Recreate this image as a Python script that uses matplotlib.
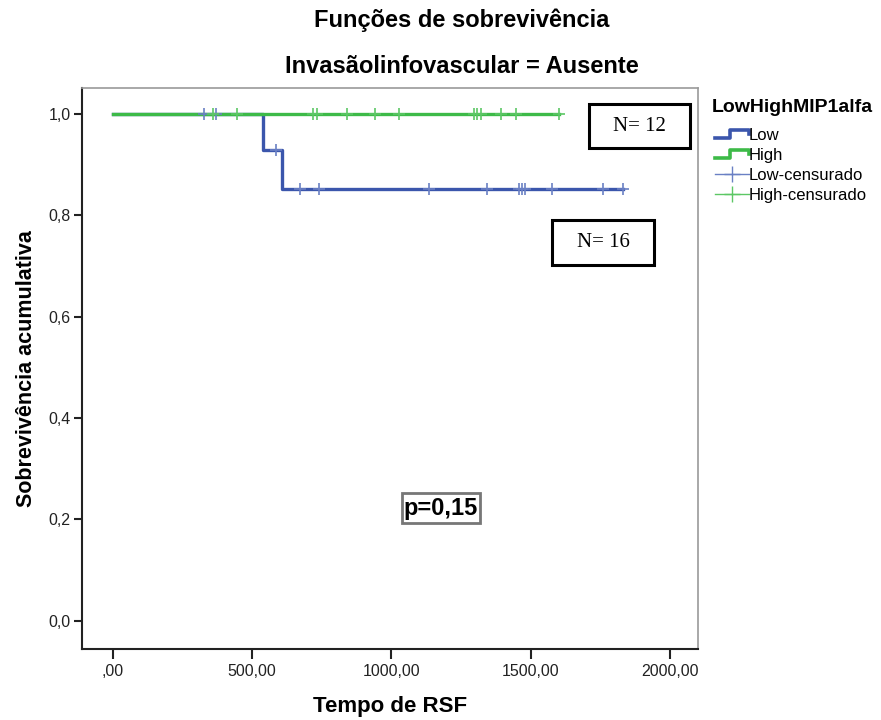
import numpy as np
import matplotlib
matplotlib.use("Agg")
import matplotlib.pyplot as plt
from matplotlib.lines import Line2D
from matplotlib.patches import Rectangle
from matplotlib.legend_handler import HandlerBase

# ---------------- data ----------------
low_step_times = [0, 539, 608, 1830]
low_step_surv = [1.0, 0.929, 0.851, 0.851]
high_step_times = [0, 1601]
high_step_surv = [1.0, 1.0]

low_cens_times = [328, 371, 585, 672, 741, 1136, 1342, 1459, 1467, 1480, 1575, 1758, 1830]
high_cens_times = [359, 445, 720, 734, 840, 941, 1027, 1297, 1308, 1320, 1393, 1448, 1601]

x_ticks = [0, 500, 1000, 1500, 2000]
x_tick_labels = [",00", "500,00", "1000,00", "1500,00", "2000,00"]
y_ticks = [0.0, 0.2, 0.4, 0.6, 0.8, 1.0]
y_tick_labels = ["0,0", "0,2", "0,4", "0,6", "0,8", "1,0"]

title1 = "Funções de sobrevivência"
title2 = "Invasãolinfovascular = Ausente"
legend_title = "LowHighMIP1alfa"
series_names = ["Low", "High", "Low-censurado", "High-censurado"]
n_low = "N= 16"
n_high = "N= 12"
p_text = "p=0,15"

BLUE = "#3B56AC"
GREEN = "#3DBA48"
BLUE_C = "#6A80C4"
GREEN_C = "#5CC765"

plt.rcParams['font.family'] = ['Liberation Sans', 'DejaVu Sans']

fig = plt.figure(figsize=(8.81, 7.2), dpi=100)
ax = fig.add_axes([0.0927, 0.0986, 0.6996, 0.7792])


def surv_at(t, times, surv):
    idx = np.searchsorted(times, t, side='right') - 1
    return surv[max(idx, 0)]


ax.step(low_step_times, low_step_surv, where='post', color=BLUE, lw=2.4, zorder=3)
ax.step(high_step_times, high_step_surv, where='post', color=GREEN, lw=2.4, zorder=4)

ax.plot(low_cens_times, [surv_at(t, low_step_times, low_step_surv) for t in low_cens_times],
        linestyle='none', marker='+', ms=9, mew=1.2, color=BLUE_C, zorder=5)
ax.plot(high_cens_times, [surv_at(t, high_step_times, high_step_surv) for t in high_cens_times],
        linestyle='none', marker='+', ms=9, mew=1.2, color=GREEN_C, zorder=6)

ax.set_xlim(-111, 2100)
ax.set_ylim(-0.056, 1.051)
ax.set_xticks(x_ticks)
ax.set_xticklabels(x_tick_labels)
ax.set_yticks(y_ticks)
ax.set_yticklabels(y_tick_labels)
ax.tick_params(axis='x', length=7, width=1.5, color='#222222', labelsize=11.5, pad=4, labelcolor='#222222')
ax.tick_params(axis='y', length=6, width=1.5, color='#222222', labelsize=11.5, pad=2, labelcolor='#222222')

for s in ['left', 'bottom']:
    ax.spines[s].set_color('#222222')
    ax.spines[s].set_linewidth(1.5)
for s in ['top', 'right']:
    ax.spines[s].set_color('#9a9a9a')
    ax.spines[s].set_linewidth(1.2)

ax.set_xlabel("Tempo de RSF", fontsize=16, fontweight='bold', labelpad=12)
ax.set_ylabel("Sobrevivência acumulativa", fontsize=15.5, fontweight='bold', labelpad=8)

fig.text(0.524, 0.972, title1, ha='center', va='center', fontsize=17, fontweight='bold')
fig.text(0.524, 0.907, title2, ha='center', va='center', fontsize=17, fontweight='bold')

# N boxes (serif)
ax.add_patch(Rectangle((0.823, 0.893), 0.164, 0.0785, transform=ax.transAxes,
                       fc='white', ec='black', lw=2.2, zorder=7))
ax.text(0.905, 0.932, n_high, transform=ax.transAxes, ha='center', va='center',
        fontsize=15, family='Liberation Serif', zorder=8)
ax.add_patch(Rectangle((0.763, 0.6845), 0.166, 0.0805, transform=ax.transAxes,
                       fc='white', ec='black', lw=2.2, zorder=7))
ax.text(0.846, 0.724, n_low, transform=ax.transAxes, ha='center', va='center',
        fontsize=15, family='Liberation Serif', zorder=8)
ax.add_patch(Rectangle((0.520, 0.2246), 0.126, 0.0534, transform=ax.transAxes,
                       fc='white', ec='#777777', lw=2, zorder=7))
ax.text(0.583, 0.251, p_text, transform=ax.transAxes, ha='center', va='center',
        fontsize=17, fontweight='bold', zorder=8)


class StepHandler(HandlerBase):
    def __init__(self, color, lw):
        super().__init__()
        self.color = color
        self.lw = lw

    def create_artists(self, legend, orig_handle, xdescent, ydescent, width, height, fontsize, trans):
        x0, x1 = -xdescent, -xdescent + width
        y0, y1 = -ydescent + 0.15 * height, -ydescent + 0.85 * height
        xm = x0 + 0.45 * width
        xs = [x0, xm, xm, x1, x1]
        ys = [y0, y0, y1, y1, y0 + 0.35 * height]
        ln = Line2D(xs, ys, color=self.color, lw=self.lw, transform=trans)
        return [ln]


# legend title
fig.text(0.808, 0.850, legend_title, ha='left', va='center', fontsize=14, fontweight='bold')

h_low = Line2D([], [], color=BLUE)
h_high = Line2D([], [], color=GREEN)
h_lowc = Line2D([], [], color=BLUE_C, lw=1.0, marker='+', ms=11, mew=1.0)
h_highc = Line2D([], [], color=GREEN_C, lw=1.0, marker='+', ms=11, mew=1.0)

leg = fig.legend([h_low, h_high, h_lowc, h_highc], series_names,
                 handler_map={h_low: StepHandler(BLUE, 2.6), h_high: StepHandler(GREEN, 2.6)},
                 loc='upper left', bbox_to_anchor=(0.812, 0.822), frameon=False,
                 fontsize=12, handlelength=2.0, handletextpad=0.0, labelspacing=0.3,
                 borderaxespad=0.0, borderpad=0.0)

fig.savefig("out.png", dpi=100, facecolor='white')
